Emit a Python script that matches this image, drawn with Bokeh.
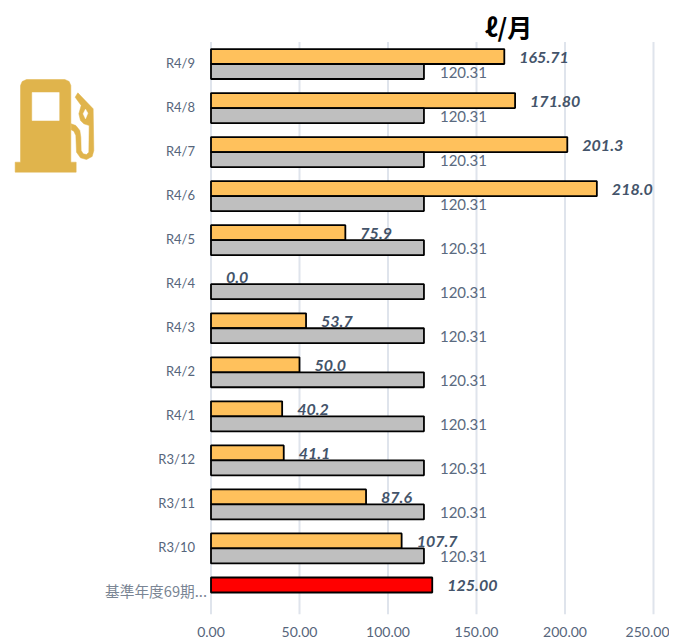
from bokeh.plotting import figure
from bokeh.embed import file_html
from bokeh.resources import INLINE
from bokeh.models import ColumnDataSource, FixedTicker, Range1d
from bokeh.core.properties import value

categories = ["R4/9", "R4/8", "R4/7", "R4/6", "R4/5", "R4/4", "R4/3", "R4/2", "R4/1", "R3/12", "R3/11", "R3/10", "基準年度69期..."]
actual = [165.71, 171.80, 201.3, 218.0, 75.9, 0.0, 53.7, 50.0, 40.2, 41.1, 87.6, 107.7]
actual_labels = ["165.71", "171.80", "201.3", "218.0", "75.9", "0.0", "53.7", "50.0", "40.2", "41.1", "87.6", "107.7"]
target = [120.31] * 12
target_labels = ["120.31"] * 12
base_value = [125.00]
base_label = ["125.00"]
x_ticks = [0, 50, 100, 150, 200, 250]
unit_title = "ℓ/月"

INK = "#44546a"
n = len(categories)
ys = [n - 0.5 - i for i in range(n)]
BAR = 0.34

W, H = 669, 644
X0, X250 = 210.5, 653.0          # page pixels of value 0 and 250
TOP, BOTTOM = 41.5, 614.0        # page pixels of the category band
KX = (X250 - X0) / 250
KY = (BOTTOM - TOP) / n
def dx(px): return (px - X0) / KX
def dy(py): return (BOTTOM - py) / KY

p = figure(width=W, height=H, output_backend="svg", toolbar_location=None,
           x_range=Range1d(dx(0), dx(W)), y_range=Range1d(dy(BOTTOM), dy(0)),
           min_border_left=0, min_border_right=0, min_border_top=0, min_border_bottom=H - int(BOTTOM))
p.outline_line_color = None
p.background_fill_color = "white"
p.grid.visible = False
p.segment(x0=x_ticks, x1=x_ticks, y0=[0] * len(x_ticks), y1=[n] * len(x_ticks),
          line_color="#dfe4ec", line_width=2, level="underlay")

p.xaxis.ticker = FixedTicker(ticks=x_ticks)
p.xaxis.major_label_overrides = {t: f"{t:.2f}" for t in x_ticks}
p.xaxis.axis_line_color = None
p.xaxis.major_tick_line_color = None
p.xaxis.minor_tick_line_color = None
p.xaxis.major_label_text_font = "Lato"
p.xaxis.major_label_text_font_size = "14px"
p.xaxis.major_label_text_color = "#56657b"
p.xaxis.major_label_standoff = 6

tick_ys = [y + 1.0 / KY for y in ys[:-1]]
p.yaxis.fixed_location = 0
p.yaxis.ticker = FixedTicker(ticks=tick_ys)
p.yaxis.major_label_overrides = {y: c for y, c in zip(tick_ys, categories[:-1])}
p.yaxis.axis_line_color = None
p.yaxis.major_tick_line_color = None
p.yaxis.minor_tick_line_color = None
p.yaxis.major_label_text_font = "Lato"
p.yaxis.major_label_text_font_size = "13px"
p.yaxis.major_label_text_color = "#56657b"
p.yaxis.major_label_standoff = 10

ya = [y + BAR / 2 for y in ys[:-1]]
yt = [y - BAR / 2 for y in ys[:-1]]
src_a = ColumnDataSource(dict(y=ya, v=actual, t=actual_labels, la=[1 if v > 0 else 0 for v in actual]))
src_t = ColumnDataSource(dict(y=yt, v=target, t=target_labels))
src_b = ColumnDataSource(dict(y=[ys[-1] + BAR / 2], v=base_value, t=base_label))

p.hbar(y="y", right="v", left=0, height=BAR, source=src_a, fill_color="#ffc15c", line_color="#000000", line_alpha="la", line_width=1.8)
p.hbar(y="y", right="v", left=0, height=BAR, source=src_t, fill_color="#bfbfbf", line_color="#000000", line_width=1.8)
p.hbar(y="y", right="v", left=0, height=BAR, source=src_b, fill_color="#ff0000", line_color="#000000", line_width=1.8)

for src in (src_a, src_b):
    p.text(x="v", y="y", text="t", source=src, x_offset=15, y_offset=1, text_align="left", text_baseline="middle",
           text_font=value("Lato"), text_font_size="16px", text_font_style="bold italic", text_color=INK)
p.text(x="v", y="y", text="t", source=src_t, x_offset=16, y_offset=1, text_align="left", text_baseline="middle",
       text_font=value("Lato"), text_font_size="15px", text_color="#5a6a80")

p.text(x=[0], y=[ys[-1]], text=[categories[-1]], x_offset=-4, y_offset=-2, text_align="right", text_baseline="middle",
       text_font=value("Noto Sans CJK JP"), text_font_size="14.7px", text_color="#7a8594")
p.text(x=[dx(508)], y=[dy(25)], text=[unit_title], text_align="center", text_baseline="middle",
       text_font=value("Noto Sans CJK JP"), text_font_style="bold", text_font_size="25px", text_color="#000000")

GOLD = "#e0b44c"
def icon(points, color):
    p.patch([dx(a / 3) for a, b in points], [dy(b / 3 + 70) for a, b in points], fill_color=color, line_color=color, line_width=0.5)

icon([(44, 305), (44, 275), (60, 275), (60, 45), (65, 33), (78, 27), (193, 27), (206, 33), (211, 45), (211, 275), (227, 275), (227, 305)], GOLD)
icon([(95, 66), (176, 66), (176, 150), (95, 150)], "#ffffff")
icon([(232, 67), (278, 115), (280, 240), (275, 258), (258, 267), (240, 262), (228, 245), (226, 195), (220, 182), (212, 178),
      (212, 160), (226, 165), (238, 180), (241, 200), (242, 240), (248, 250), (258, 252), (265, 245), (266, 165), (250, 160),
      (240, 150), (235, 130), (242, 105), (224, 80)], GOLD)
icon([(255, 116), (262, 128), (255, 145), (248, 130)], "#ffffff")

open("out.html", "w").write(file_html(p, INLINE))
